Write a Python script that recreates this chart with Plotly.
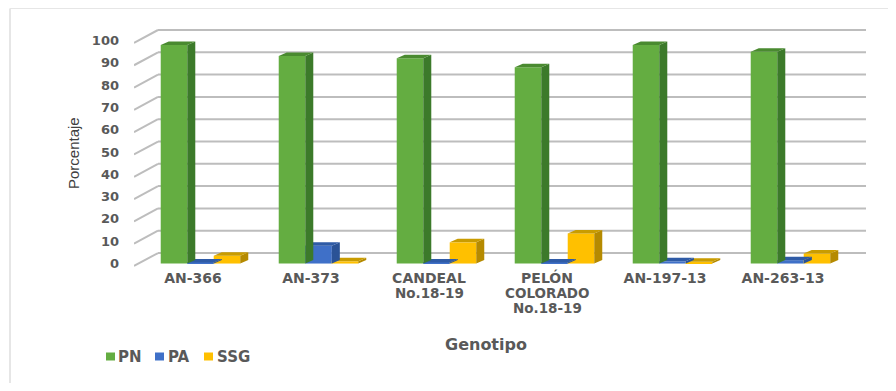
import plotly.graph_objects as go

categories = ["AN-366", "AN-373", "CANDEAL<br>No.18-19", "PELÓN<br>COLORADO<br>No.18-19", "AN-197-13", "AN-263-13"]
pn = [98, 93, 92, 88, 98, 95]
pa = [0.5, 8, 0.5, 0.5, 1, 1.5]
ssg = [3.5, 1, 9.5, 13.5, 0.8, 4.5]
y_ticks = list(range(0, 101, 10))

series = [("PN", pn, "#64ad41", "#3c7a2a", "#4a8a30"),
          ("PA", pa, "#3f70c8", "#2a5296", "#2f5ba6"),
          ("SSG", ssg, "#ffc000", "#b58a00", "#c99c00")]
offsets = {"PN": -0.161, "PA": 0.064, "SSG": 0.288}
bar_w = 0.225
dx, dy = 8 / 118, 3.5 / 2.23
wall_dx, wall_dy = 24 / 118, 10.5 / 2.23
x_lo, x_hi = -0.5, 5.5 + wall_dx
front_dy = -1.1

# page pixel -> paper fraction (the page adds an 8 px body margin)
PL, PT, PW, PH = 134, 26, 732, 242
def px(p): return (p - PL) / PW
def py(p): return (PT + PH - p) / PH

fig = go.Figure()
xs = list(range(len(categories)))

for name, vals, col, side, top in series:
    fig.add_trace(go.Bar(x=[i + offsets[name] for i in xs], y=vals, width=bar_w, name=name,
                         marker=dict(color=col, line=dict(width=0)), showlegend=False))

for name, vals, col, side, top in reversed(series):
    sx, sy, tx, ty = [], [], [], []
    for i, v in zip(xs, vals):
        l = i + offsets[name] - bar_w / 2
        r = l + bar_w
        sx += [r, r + dx, r + dx, r, r, None]
        sy += [0, dy, v + dy, v, 0, None]
        tx += [l, r, r + dx, l + dx, l, None]
        ty += [v, v, v + dy, v + dy, v, None]
    for qx, qy, c in ((sx, sy, side), (tx, ty, top)):
        fig.add_trace(go.Scatter(x=qx, y=qy, mode="lines", fill="toself", fillcolor=c,
                                 line=dict(width=0, color=c), showlegend=False, hoverinfo="skip"))

grid = dict(color="#bdbdbd", width=2)
frame = dict(color="#e6e6e6", width=2)
shapes = []
for t in y_ticks:
    shapes.append(dict(type="line", layer="below", xref="x", yref="y", x0=x_lo + wall_dx, x1=x_hi,
                       y0=t + wall_dy, y1=t + wall_dy, line=grid))
    shapes.append(dict(type="line", layer="below", xref="x", yref="y", x0=x_lo, x1=x_lo + wall_dx,
                       y0=t + front_dy, y1=t + wall_dy, line=grid))
shapes.append(dict(type="line", layer="below", xref="paper", yref="paper", x0=px(10), x1=px(10),
                   y0=py(8.5), y1=py(391), line=frame))
shapes.append(dict(type="line", layer="below", xref="paper", yref="paper", x0=px(10), x1=px(896),
                   y0=py(8.5), y1=py(8.5), line=dict(color="#e6e6e6", width=1)))

txt = "#595959"
bold = "DejaVu Sans, Arial, sans-serif"
cond = "Liberation Sans, Arial, sans-serif"
annotations = []

# continuation lines of the category labels
for i, c in enumerate(categories):
    for k, line in enumerate(c.split("<br>")[1:], start=1):
        annotations.append(dict(x=i, xref="x", y=py(278 + 15 * k), yref="paper", text=line, showarrow=False,
                                xanchor="center", yanchor="middle",
                                font=dict(family=bold, size=13.5, color=txt, weight="bold")))

annotations.append(dict(x=px(486), y=py(344), xref="paper", yref="paper", text="Genotipo", showarrow=False,
                        xanchor="center", yanchor="middle",
                        font=dict(family=bold, size=16, color=txt, weight="bold")))
annotations.append(dict(x=px(73), y=py(153), xref="paper", yref="paper", text="Porcentaje", showarrow=False,
                        textangle=-90, xanchor="center", yanchor="middle",
                        font=dict(family=cond, size=15, color="#404040")))

# legend row
legend_marker_x = [106, 155, 204]
legend_text_x = [118, 168, 217]
for (name, vals, col, side, top), mx, tx_ in zip(series, legend_marker_x, legend_text_x):
    shapes.append(dict(type="rect", xref="paper", yref="paper", x0=px(mx), x1=px(mx + 9),
                       y0=py(352.5), y1=py(360.5), fillcolor=col, line=dict(width=0)))
    annotations.append(dict(x=px(tx_), y=py(356.5), xref="paper", yref="paper", text=name, showarrow=False,
                            xanchor="left", yanchor="middle", xshift=-2,
                            font=dict(family=bold, size=15, color=txt, weight="bold")))

fig.update_layout(
    width=880, height=375, margin=dict(l=126, r=22, t=18, b=115),
    paper_bgcolor="white", plot_bgcolor="white", barmode="overlay", shapes=shapes, annotations=annotations,
    font=dict(family=bold, color=txt), showlegend=False,
    xaxis=dict(range=[x_lo, x_hi], tickmode="array", tickvals=xs,
               ticktext=[c.split("<br>")[0] for c in categories],
               showgrid=False, zeroline=False, showline=False, ticks="", tickangle=0,
               tickfont=dict(family=bold, size=14, color=txt, weight="bold")),
    yaxis=dict(range=[-2.0, 106.5], tickmode="array", tickvals=y_ticks, showgrid=False, zeroline=False,
               showline=False, ticks="", ticklabelstandoff=14,
               tickfont=dict(family=bold, size=13, color=txt, weight="bold")),
)
fig.write_html("out.html")
